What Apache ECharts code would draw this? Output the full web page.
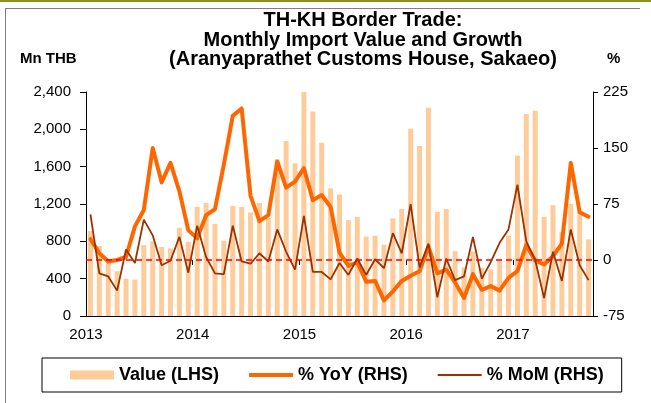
<!DOCTYPE html>
<html>
<head>
<meta charset="utf-8">
<script src="https://cdn.jsdelivr.net/npm/echarts@6/dist/echarts.min.js"></script>
<style>
  html, body { margin: 0; padding: 0; background: #ffffff; }
  #chart { width: 651px; height: 403px; }
</style>
</head>
<body>
<div id="chart"></div>
<script>
// ---- Data ----
const years = [2013, 2014, 2015, 2016, 2017];
const monthsInLastYear = 9; // Jan–Sep 2017
const yearTickLabels = ['2013', '2014', '2015', '2016', '2017'];

// Monthly import value, Mn THB (LHS)
const importValue = [
  910, 750, 590, 480, 400, 390, 760, 800, 740, 725, 946, 796,
  1170, 1212, 988, 806, 1180, 1168, 1110, 1212, 1050, 1680, 1875, 1636,
  2400, 2190, 1857, 1368, 1302, 1027, 1061, 850, 861, 764, 1046, 1146,
  2007, 1821, 2230, 1116, 1146, 695, 520, 690, 518, 500, 593, 860,
  1716, 2164, 2198, 1062, 1188, 900, 1202, 1125, 821
];
// % YoY (RHS)
const yoyGrowth = [
  28, 9, -2, 0, 4, 45, 67, 150, 104, 130, 92, 40,
  29, 60, 68, 128, 193, 203, 86, 52, 60, 132, 97, 105,
  123, 80, 87, 71, 10, -8, -3, -29, -28, -54, -42, -28,
  -21, -15, 18, -18, -13, -30, -51, -19, -40, -35, -41, -24,
  -15, 20, -1, -6, 5, 22, 130, 64, 58
];
// % MoM (RHS)
const momGrowth = [
  61, -18, -22, -41, 14, -4, 54, 33, -7, -1, 31, -17,
  46, 4, -18, -19, 46, -2, -5, 9, -2, 41, 11, -13,
  59, -16, -16, -26, -4, -20, 2, -20, 1, -11, 36, 9,
  75, -10, 22, -50, 2, -27, -22, 31, -25, -3, 23, 41,
  101, 25, 0, -51, 11, -28, 41, -7, -27
];

// Category labels: one per month
const categories = [];
years.forEach((y, i) => {
  const n = (i === years.length - 1) ? monthsInLastYear : 12;
  for (let m = 1; m <= n; m++) categories.push(y + '-' + String(m).padStart(2, '0'));
});

const FONT = '"Liberation Sans", Arial, sans-serif';
const chart = echarts.init(document.getElementById('chart'), null, { renderer: 'canvas' });

const option = {
  backgroundColor: '#ffffff',
  animation: false,
  textStyle: { fontFamily: FONT },
  title: {
    text: 'TH-KH Border Trade:\nMonthly Import Value and Growth\n(Aranyaprathet Customs House, Sakaeo)',
    left: 358, top: 6, textAlign: 'center',
    textStyle: { fontFamily: FONT, fontSize: 20, fontWeight: 'bold', color: '#000', lineHeight: 19.5 }
  },
  grid: { left: 86, right: 58, top: 92, bottom: 87, containLabel: false },
  legend: {
    left: 42, top: 358,
    padding: [8, 18, 8, 28],
    borderColor: '#000', borderWidth: 1,
    itemGap: 30, itemWidth: 44, itemHeight: 9,
    textStyle: { fontFamily: FONT, fontSize: 18, fontWeight: 'bold', color: '#000' },
    data: [
      { name: 'Value (LHS)', icon: 'rect' },
      { name: '% YoY (RHS)', icon: 'path://M0,0h44v4h-44z' },
      { name: '% MoM (RHS)', icon: 'path://M0,0h44v2h-44z' }
    ]
  },
  xAxis: [
    {
      type: 'category', data: categories, boundaryGap: true,
      axisLine: { show: true, lineStyle: { color: '#000', width: 1 } },
      axisTick: { show: false }, axisLabel: { show: false }, splitLine: { show: false }
    },
    {
      type: 'value', min: 0, max: categories.length, position: 'bottom',
      axisLine: { show: false },
      axisTick: { show: true, length: 5, customValues: [0, 12, 24, 36, 48], lineStyle: { color: '#000' } },
      axisLabel: {
        show: true, margin: 11, customValues: [0, 12, 24, 36, 48],
        formatter: v => yearTickLabels[Math.round(v / 12)] || '',
        fontFamily: FONT, fontSize: 15, color: '#000'
      },
      splitLine: { show: false }
    }
  ],
  yAxis: [
    {
      type: 'value', min: 0, max: 2400, interval: 400, position: 'left',
      axisLine: { show: true, lineStyle: { color: '#000', width: 1 } },
      axisTick: { show: true, length: 6, inside: false, lineStyle: { color: '#000' } },
      axisLabel: { margin: 15, fontFamily: FONT, fontSize: 15, color: '#000',
        formatter: v => v.toLocaleString('en-US') },
      splitLine: { show: false }
    },
    {
      type: 'value', min: -75, max: 225, interval: 75, position: 'right',
      axisLine: { show: true, lineStyle: { color: '#000', width: 1 } },
      axisTick: { show: true, length: 5, lineStyle: { color: '#000' } },
      axisLabel: { margin: 10, fontFamily: FONT, fontSize: 15, color: '#000' },
      splitLine: { show: false }
    }
  ],
  series: [
    {
      name: 'Value (LHS)', type: 'bar', xAxisIndex: 0, yAxisIndex: 0,
      data: importValue, barWidth: 5,
      itemStyle: { color: '#FFCC99' },
      markLine: {
        silent: true, symbol: ['none', 'none'], label: { show: false },
        lineStyle: { color: '#FF0000', type: [6, 4], width: 1.5 },
        data: [{ yAxis: 600 }]
      }
    },
    {
      name: '% YoY (RHS)', type: 'line', xAxisIndex: 0, yAxisIndex: 1,
      data: yoyGrowth, symbol: 'none', smooth: false,
      lineStyle: { color: '#FF6600', width: 4, join: 'round', cap: 'round' },
      itemStyle: { color: '#FF6600' }
    },
    {
      name: '% MoM (RHS)', type: 'line', xAxisIndex: 0, yAxisIndex: 1,
      data: momGrowth, symbol: 'none', smooth: false,
      lineStyle: { color: '#993300', width: 1.8 },
      itemStyle: { color: '#993300' }
    }
  ],
  graphic: [
    { type: 'rect', left: 0, top: 0, shape: { width: 651, height: 2 }, style: { fill: '#8f8f1f' }, silent: true },
    { type: 'line', shape: { x1: 5.5, y1: 8, x2: 5.5, y2: 403 }, style: { stroke: '#7f7f7f', lineWidth: 1 }, silent: true },
    { type: 'line', shape: { x1: 5, y1: 8.5, x2: 640, y2: 8.5 }, style: { stroke: '#7f7f7f', lineWidth: 1 }, silent: true },
    { type: 'text', left: 20, top: 51, style: { text: 'Mn THB', font: 'bold 15px ' + FONT, fill: '#000' } },
    { type: 'text', left: 607, top: 51, style: { text: '%', font: 'bold 15px ' + FONT, fill: '#000' } }
  ]
};
chart.setOption(option);
</script>
</body>
</html>
